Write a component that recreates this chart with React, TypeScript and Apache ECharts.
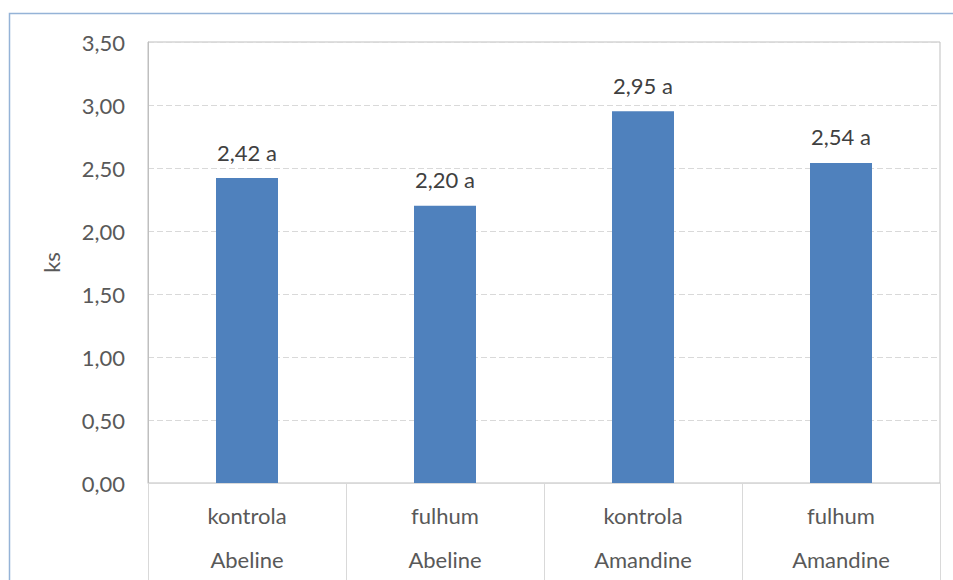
import React, { useEffect, useRef } from "react";
import * as echarts from "echarts";

// Variety (outer level) and treatment (inner level) for each bar
const varieties = ["Abeline", "Abeline", "Amandine", "Amandine"];
const treatments = ["kontrola", "fulhum", "kontrola", "fulhum"];
const ksValues = [2.42, 2.2, 2.95, 2.54];
const significance = ["a", "a", "a", "a"];
const yTicks = [0, 0.5, 1, 1.5, 2, 2.5, 3, 3.5];

const categories = treatments.map((t, i) => `${t}\n${varieties[i]}`);
const FONT = "Lato, 'Liberation Sans', sans-serif";
const fmt = (v: number) => v.toFixed(2).replace(".", ",");

export default function App() {
  const ref = useRef<HTMLDivElement>(null);

  useEffect(() => {
    if (!ref.current) return;
    const chart = echarts.init(ref.current, undefined, { renderer: "svg" });
    chart.setOption({
      animation: false,
      backgroundColor: "#ffffff",
      textStyle: { fontFamily: FONT },
      graphic: [
        {
          type: "rect",
          shape: { x: 9.5, y: 13.5, width: 1000, height: 700 },
          style: { fill: "none", stroke: "#95b3d7", lineWidth: 1.5 },
          silent: true,
          z: -10,
        },
      ],
      grid: {
        left: 148,
        top: 42,
        right: 13,
        bottom: 97,
        outerBoundsMode: "none",
        containLabel: false,
        show: true,
        borderColor: "#bfbfbf",
        borderWidth: 1,
        backgroundColor: "transparent",
      },
      xAxis: {
        type: "category",
        data: categories,
        boundaryGap: true,
        axisLine: { show: true, lineStyle: { color: "#d9d9d9", width: 1 } },
        axisTick: {
          show: true,
          alignWithLabel: false,
          length: 100,
          lineStyle: { color: "#d9d9d9", width: 1 },
        },
        axisLabel: {
          interval: 0,
          margin: 10,
          lineHeight: 44,
          fontSize: 22,
          fontFamily: FONT,
          color: "#595959",
        },
      },
      yAxis: {
        type: "value",
        min: yTicks[0],
        max: yTicks[yTicks.length - 1],
        interval: 0.5,
        name: "ks",
        nameLocation: "middle",
        nameRotate: 90,
        nameGap: 86,
        nameTextStyle: { fontSize: 22, fontFamily: FONT, color: "#595959" },
        axisLine: { show: true, lineStyle: { color: "#bfbfbf", width: 1 } },
        axisTick: { show: false },
        splitLine: {
          show: true,
          lineStyle: { color: "#d9d9d9", type: [6, 3], width: 1 },
        },
        axisLabel: {
          margin: 23,
          fontSize: 22,
          fontFamily: FONT,
          color: "#595959",
          formatter: (v: number) => fmt(v),
        },
      },
      series: [
        {
          type: "bar",
          data: ksValues,
          barWidth: 62,
          itemStyle: { color: "#4f81bd" },
          label: {
            show: true,
            position: "top",
            distance: 15,
            fontSize: 22,
            fontFamily: FONT,
            color: "#404040",
            formatter: (p: any) => `${fmt(p.value)} ${significance[p.dataIndex]}`,
          },
        },
      ],
    });
    return () => chart.dispose();
  }, []);

  return (
    <div
      ref={ref}
      style={{ position: "fixed", left: 0, top: 0, width: 953, height: 580 }}
    />
  );
}
